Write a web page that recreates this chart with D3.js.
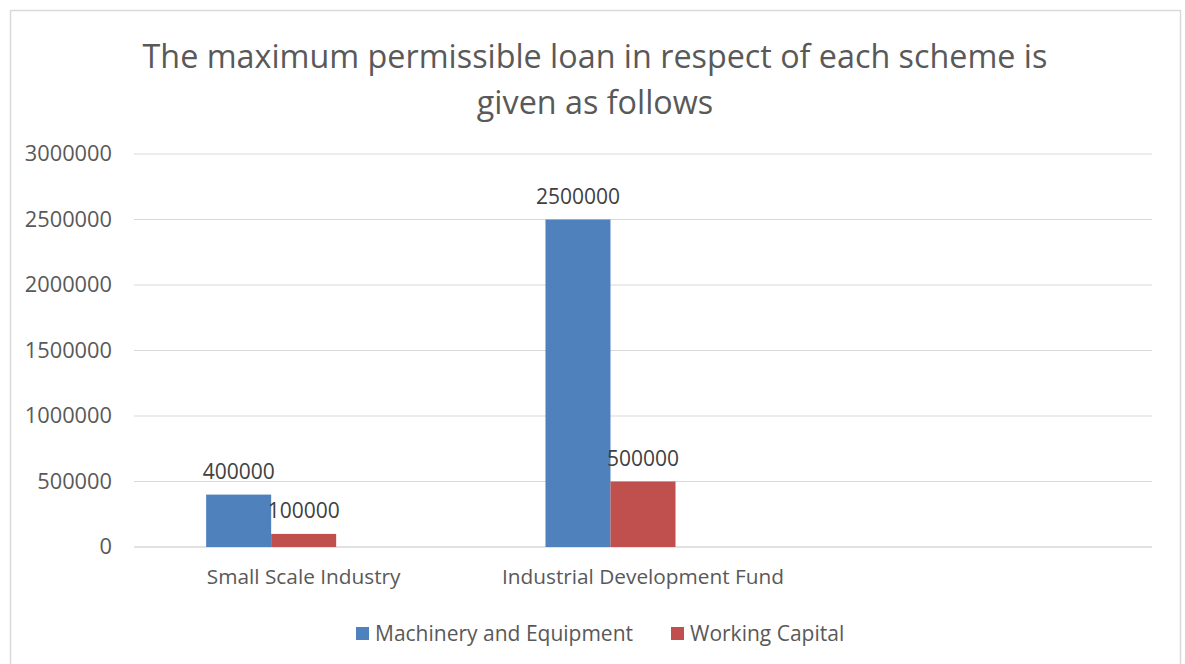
<!DOCTYPE html>
<html>
<head>
<meta charset="utf-8">
<script src="https://cdn.jsdelivr.net/npm/d3@7"></script>
<style>
  body { margin: 0; background: #fff; }
  svg { display: block; font-family: "Open Sans", "Noto Sans", sans-serif; }
</style>
</head>
<body>
<svg id="chart" width="1185" height="664"></svg>
<script>
// Chart data
const categories = ["Small Scale Industry", "Industrial Development Fund", ""];
const series = ["Machinery and Equipment", "Working Capital"];
const machineryValues = [400000, 2500000, null];
const workingCapitalValues = [100000, 500000, null];
const yTicks = [0, 500000, 1000000, 1500000, 2000000, 2500000, 3000000];
const colors = ["#4F81BD", "#C0504D"];

const svg = d3.select("#chart");

// chart area border: left, top and right only (bottom edge is out of frame)
svg.append("path")
  .attr("d", "M10.5,664V10.5H1180.5V664")
  .attr("fill", "none")
  .attr("stroke", "#D9D9D9")
  .attr("stroke-width", 1.5);

// title
const title = svg.append("text")
  .attr("text-anchor", "middle")
  .attr("fill", "#595959")
  .style("font-size", "32.3px");
title.append("tspan").attr("x", 595).attr("y", 68)
  .text("The maximum permissible loan in respect of each scheme is");
title.append("tspan").attr("x", 595).attr("y", 114)
  .text("given as follows");

const margin = { top: 154, left: 134, right: 33, bottom: 117 };
const innerWidth = 1185 - margin.left - margin.right;
const innerHeight = 664 - margin.top - margin.bottom;

const g = svg.append("g")
  .attr("transform", `translate(${margin.left},${margin.top})`);

const y = d3.scaleLinear().domain([0, 3000000]).range([innerHeight, 0]);

const x0 = d3.scaleBand().domain(categories).range([0, innerWidth]).padding(0);

// Excel-style layout: three bar slots per group (third one empty), gap ~220%
const barW = x0.bandwidth() * 0.1916;
const groupOffset = (x0.bandwidth() - 3 * barW) / 2;
const x1 = d3.scaleBand().domain(series)
  .range([groupOffset, groupOffset + 2 * barW]);

// gridlines
g.append("g")
  .selectAll("line")
  .data(yTicks)
  .join("line")
  .attr("x1", 0).attr("x2", innerWidth)
  .attr("y1", d => y(d)).attr("y2", d => y(d))
  .attr("stroke", "#D9D9D9")
  .attr("stroke-width", d => d === 0 ? 1.5 : 1.2);

// y axis labels
const yAxis = d3.axisLeft(y).tickValues(yTicks).tickSize(0).tickPadding(22)
  .tickFormat(d => `${d}`);
g.append("g")
  .call(yAxis)
  .call(a => a.select(".domain").remove())
  .selectAll("text")
  .attr("fill", "#595959")
  .style("font-family", "'Open Sans', sans-serif")
  .style("font-size", "21.8px");

// x axis labels
g.append("g")
  .attr("transform", `translate(0,${innerHeight})`)
  .call(d3.axisBottom(x0).tickSize(0).tickPadding(22))
  .call(a => a.select(".domain").remove())
  .selectAll("text")
  .attr("fill", "#595959")
  .style("font-family", "'Open Sans', sans-serif")
  .style("font-size", "20.8px");

// bars
const rows = categories.map((c, i) => ({
  category: c,
  values: [machineryValues[i], workingCapitalValues[i]]
}));

const groups = g.selectAll(".group")
  .data(rows)
  .join("g")
  .attr("class", "group")
  .attr("transform", d => `translate(${x0(d.category)},0)`);

groups.selectAll("rect")
  .data(d => d.values.map((v, i) => ({ key: series[i], value: v, idx: i })).filter(d => d.value != null))
  .join("rect")
  .attr("x", d => x1(d.key))
  .attr("y", d => y(d.value))
  .attr("width", x1.bandwidth())
  .attr("height", d => innerHeight - y(d.value))
  .attr("fill", d => colors[d.idx]);

groups.selectAll(".label")
  .data(d => d.values.map((v, i) => ({ key: series[i], value: v })).filter(d => d.value != null))
  .join("text")
  .attr("class", "label")
  .attr("x", d => x1(d.key) + x1.bandwidth() / 2)
  .attr("y", d => y(d.value) - 16)
  .attr("text-anchor", "middle")
  .attr("fill", "#404040")
  .style("font-size", "21px")
  .text(d => d.value);

// legend
const legend = svg.append("g").attr("transform", "translate(356,627)");
const legendX = [0, 315];
series.forEach((s, i) => {
  const item = legend.append("g").attr("transform", `translate(${legendX[i]},0)`);
  item.append("rect").attr("width", 13).attr("height", 13).attr("fill", colors[i]);
  item.append("text")
    .attr("x", 19).attr("y", 13.5)
    .attr("fill", "#595959")
    .style("font-size", "21px")
    .text(s);
});
</script>
</body>
</html>
